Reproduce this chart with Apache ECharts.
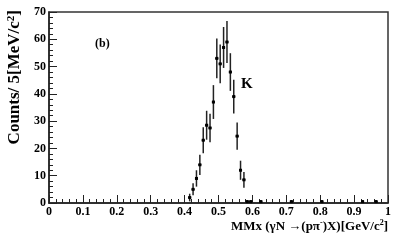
<!DOCTYPE html>
<html><head><meta charset="utf-8">
<script src="https://cdn.jsdelivr.net/npm/echarts@6/dist/echarts.min.js"></script>
<style>html,body{margin:0;padding:0;background:#fff}#c{width:395px;height:240px}</style>
</head><body><div id="c"></div>
<script>
const massBins = [0.415,0.425,0.435,0.445,0.455,0.465,0.475,0.485,0.495,0.505,0.515,0.525,0.535,0.545,0.555,0.565,0.575,0.585,0.595,0.625,0.715,0.805,0.925,0.965];
const counts   = [2,5,9,14,23,28.5,27.5,37,53,51,57,59,48,39,24.5,12,8.5,0.5,0.5,0.5,0.5,0.5,0.5,0.5];
const errors   = [1.4,2.2,3,3.7,4.8,5.3,5.2,6.2,7.3,7.1,7.5,7.7,6.9,6.2,5,3.5,2.9,0.6,0.6,0.6,0.6,0.6,0.6,0.6];
const xTicks = {min:0, max:1, interval:0.1};
const yTicks = {min:0, max:70, interval:10};

const data = massBins.map((x,i)=>[x, counts[i], errors[i]]);
const font = 'Liberation Serif';
const chart = echarts.init(document.getElementById('c'), null, {renderer:'canvas'});
chart.setOption({
  animation:false,
  grid:{left:49, right:7, top:12, bottom:37, show:true, borderColor:'#333', borderWidth:1.5},
  xAxis:{type:'value', min:xTicks.min, max:xTicks.max, interval:xTicks.interval,
    axisLine:{show:true, onZero:false, lineStyle:{color:'#222', width:1.5}},
    axisTick:{show:true, inside:true, length:8, lineStyle:{color:'#222'}},
    minorTick:{show:true, splitNumber:5, length:4, lineStyle:{color:'#222'}},
    splitLine:{show:false},
    axisLabel:{color:'#000', fontFamily:font, fontWeight:'bold', fontSize:12, margin:3,
      formatter:v=>String(Math.round(v*10)/10)}
  },
  yAxis:{type:'value', min:yTicks.min, max:yTicks.max, interval:yTicks.interval,
    axisLine:{show:true, lineStyle:{color:'#222', width:1.5}},
    axisTick:{show:true, inside:true, length:8, lineStyle:{color:'#222'}},
    minorTick:{show:true, splitNumber:5, length:4, lineStyle:{color:'#222'}},
    splitLine:{show:false},
    axisLabel:{color:'#000', fontFamily:font, fontWeight:'bold', fontSize:12, margin:3}
  },
  graphic:[
    {type:'text', x:15, y:10, rotation:Math.PI/2, style:{
      text:'{a|Counts/ 5[MeV/c}{s|2}{a|]}', align:'right', verticalAlign:'middle',
      rich:{
        a:{fontFamily:font, fontWeight:'bold', fontSize:17, fill:'#000'},
        s:{fontFamily:font, fontWeight:'bold', fontSize:11, fill:'#000', padding:[0,0,8,0]}
      }}},
    {type:'text', left:95, top:38, style:{text:'(b)', font:'bold 12px "Liberation Serif"', fill:'#000'}},
    {type:'text', left:241, top:77, style:{text:'K', font:'bold 15px "Liberation Serif"', fill:'#000'}},
    {type:'text', right:7, top:219, style:{
      text:'{a|MMx (γN →(pπ}{s|-}{a|)X)[GeV/c}{s|2}{a|]}',
      rich:{
        a:{fontFamily:font, fontWeight:'bold', fontSize:13, fill:'#000'},
        s:{fontFamily:font, fontWeight:'bold', fontSize:8, fill:'#000', padding:[0,0,7,0]}
      }}}
  ],
  series:[{
    type:'custom', data:data,
    renderItem:(params, api)=>{
      const x = api.value(0), y = api.value(1), e = api.value(2);
      const p = api.coord([x,y]);
      const top = api.coord([x, y+e]);
      const bot = api.coord([x, Math.max(0, y-e)]);
      return {type:'group', children:[
        {type:'line', shape:{x1:p[0], y1:top[1], x2:p[0], y2:bot[1]}, style:{stroke:'#222', lineWidth:1.5}},
        {type:'line', shape:{x1:p[0]-1.5, y1:p[1], x2:p[0]+1.5, y2:p[1]}, style:{stroke:'#000', lineWidth:1.5}},
        {type:'rect', shape:{x:p[0]-1.5, y:p[1]-1.5, width:3, height:3}, style:{fill:'#000'}}
      ]};
    }
  }]
});
</script></body></html>
